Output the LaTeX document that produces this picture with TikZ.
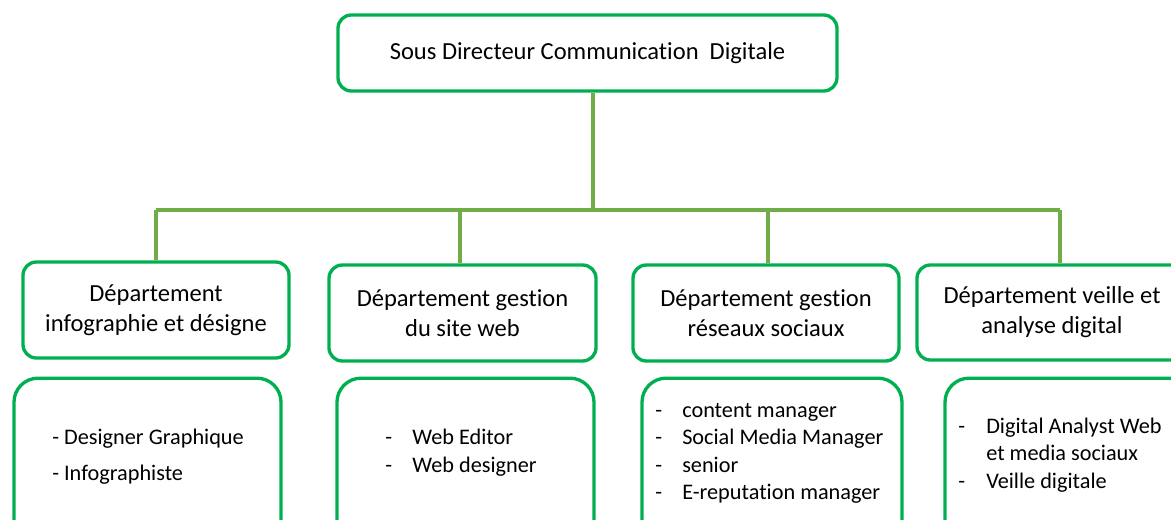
\documentclass[tikz,border=0pt]{standalone}
\usepackage{fontspec}
\setmainfont{Carlito}[Ligatures=NoCommon]
\definecolor{boxgreen}{HTML}{00B050}
\definecolor{linegreen}{HTML}{70AD47}
\begin{document}
\begin{tikzpicture}[x=0.75pt,y=-0.75pt,
  head/.style={draw=boxgreen,line width=2.5pt,rounded corners=10pt,fill=white,align=center,
    font=\fontsize{18.4}{22.5}\selectfont,inner sep=0pt},
  listbox/.style={draw=boxgreen,line width=2.5pt,rounded corners=18pt,fill=white,inner sep=0pt},
  ltext/.style={anchor=west,inner sep=0pt,font=\fontsize{16.7}{20.6}\selectfont},
  conn/.style={draw=linegreen,line width=2.6pt}]
\useasboundingbox (0,0) rectangle (1171,520);
\fill[white] (0,0) rectangle (1171,520);

% top box
\node[head,minimum width=374.25pt,minimum height=57pt] (T) at (587.5,53)
  {Sous Directeur Communication\ \ Digitale};

% department boxes
\node[head,minimum width=199.5pt,minimum height=72pt] (B1) at (156,310)
  {Département\\infographie et désigne};
\node[head,minimum width=200.25pt,minimum height=72pt] (B2) at (462.5,313)
  {Département gestion\\du site web};
\node[head,minimum width=199.5pt,minimum height=72pt] (B3) at (766,313)
  {Département gestion\\réseaux sociaux};
\node[head,minimum width=202.5pt,minimum height=71.25pt] (B4) at (1052,312.5)
  {Département veille et\\analyse digital};

% connectors
\coordinate (bus) at (593,210);
\coordinate (busL) at (156,210);
\coordinate (busR) at (1060,210);
\coordinate (bus2) at (460,210);
\coordinate (bus3) at (768,210);
\draw[conn] (bus |- T.south) -- (bus);
\draw[conn] (busL) -- (busR);
\draw[conn] (busL) -- (busL |- B1.north);
\draw[conn] (bus2) -- (bus2 |- B2.north);
\draw[conn] (bus3) -- (bus3 |- B3.north);
\draw[conn] (busR) -- (busR |- B4.north);

% list boxes
\node[listbox,minimum width=200.25pt,minimum height=125pt] (C1) at (147.5,461.5) {};
\node[listbox,minimum width=192.75pt,minimum height=125pt] (C2) at (465.5,461.5) {};
\node[listbox,minimum width=195pt,minimum height=125pt] (C3) at (772,461.5) {};
\node[listbox,minimum width=195pt,minimum height=125pt] (C4) at (1075,461.5) {};

% list texts
\node[ltext] (L1) at (52,457)
  {\begin{tabular}{@{}l@{}}- Designer Graphique\\[6.5pt] - Infographiste\end{tabular}};
\node[ltext] (L2) at (385,453)
  {\begin{tabular}{@{}p{20.25pt}@{}l@{}}-&Web Editor\\-&Web designer\end{tabular}};
\node[ltext] (L3) at (655,453)
  {\begin{tabular}{@{}p{20.25pt}@{}l@{}}-&content manager\\-&Social Media Manager\\-&senior\\-&E-reputation manager\end{tabular}};
\node[ltext] (L4) at (958,455.5)
  {\begin{tabular}{@{}p{21pt}@{}l@{}}-&Digital Analyst Web\\&et media sociaux\\-&Veille digitale\end{tabular}};
\end{tikzpicture}
\end{document}
